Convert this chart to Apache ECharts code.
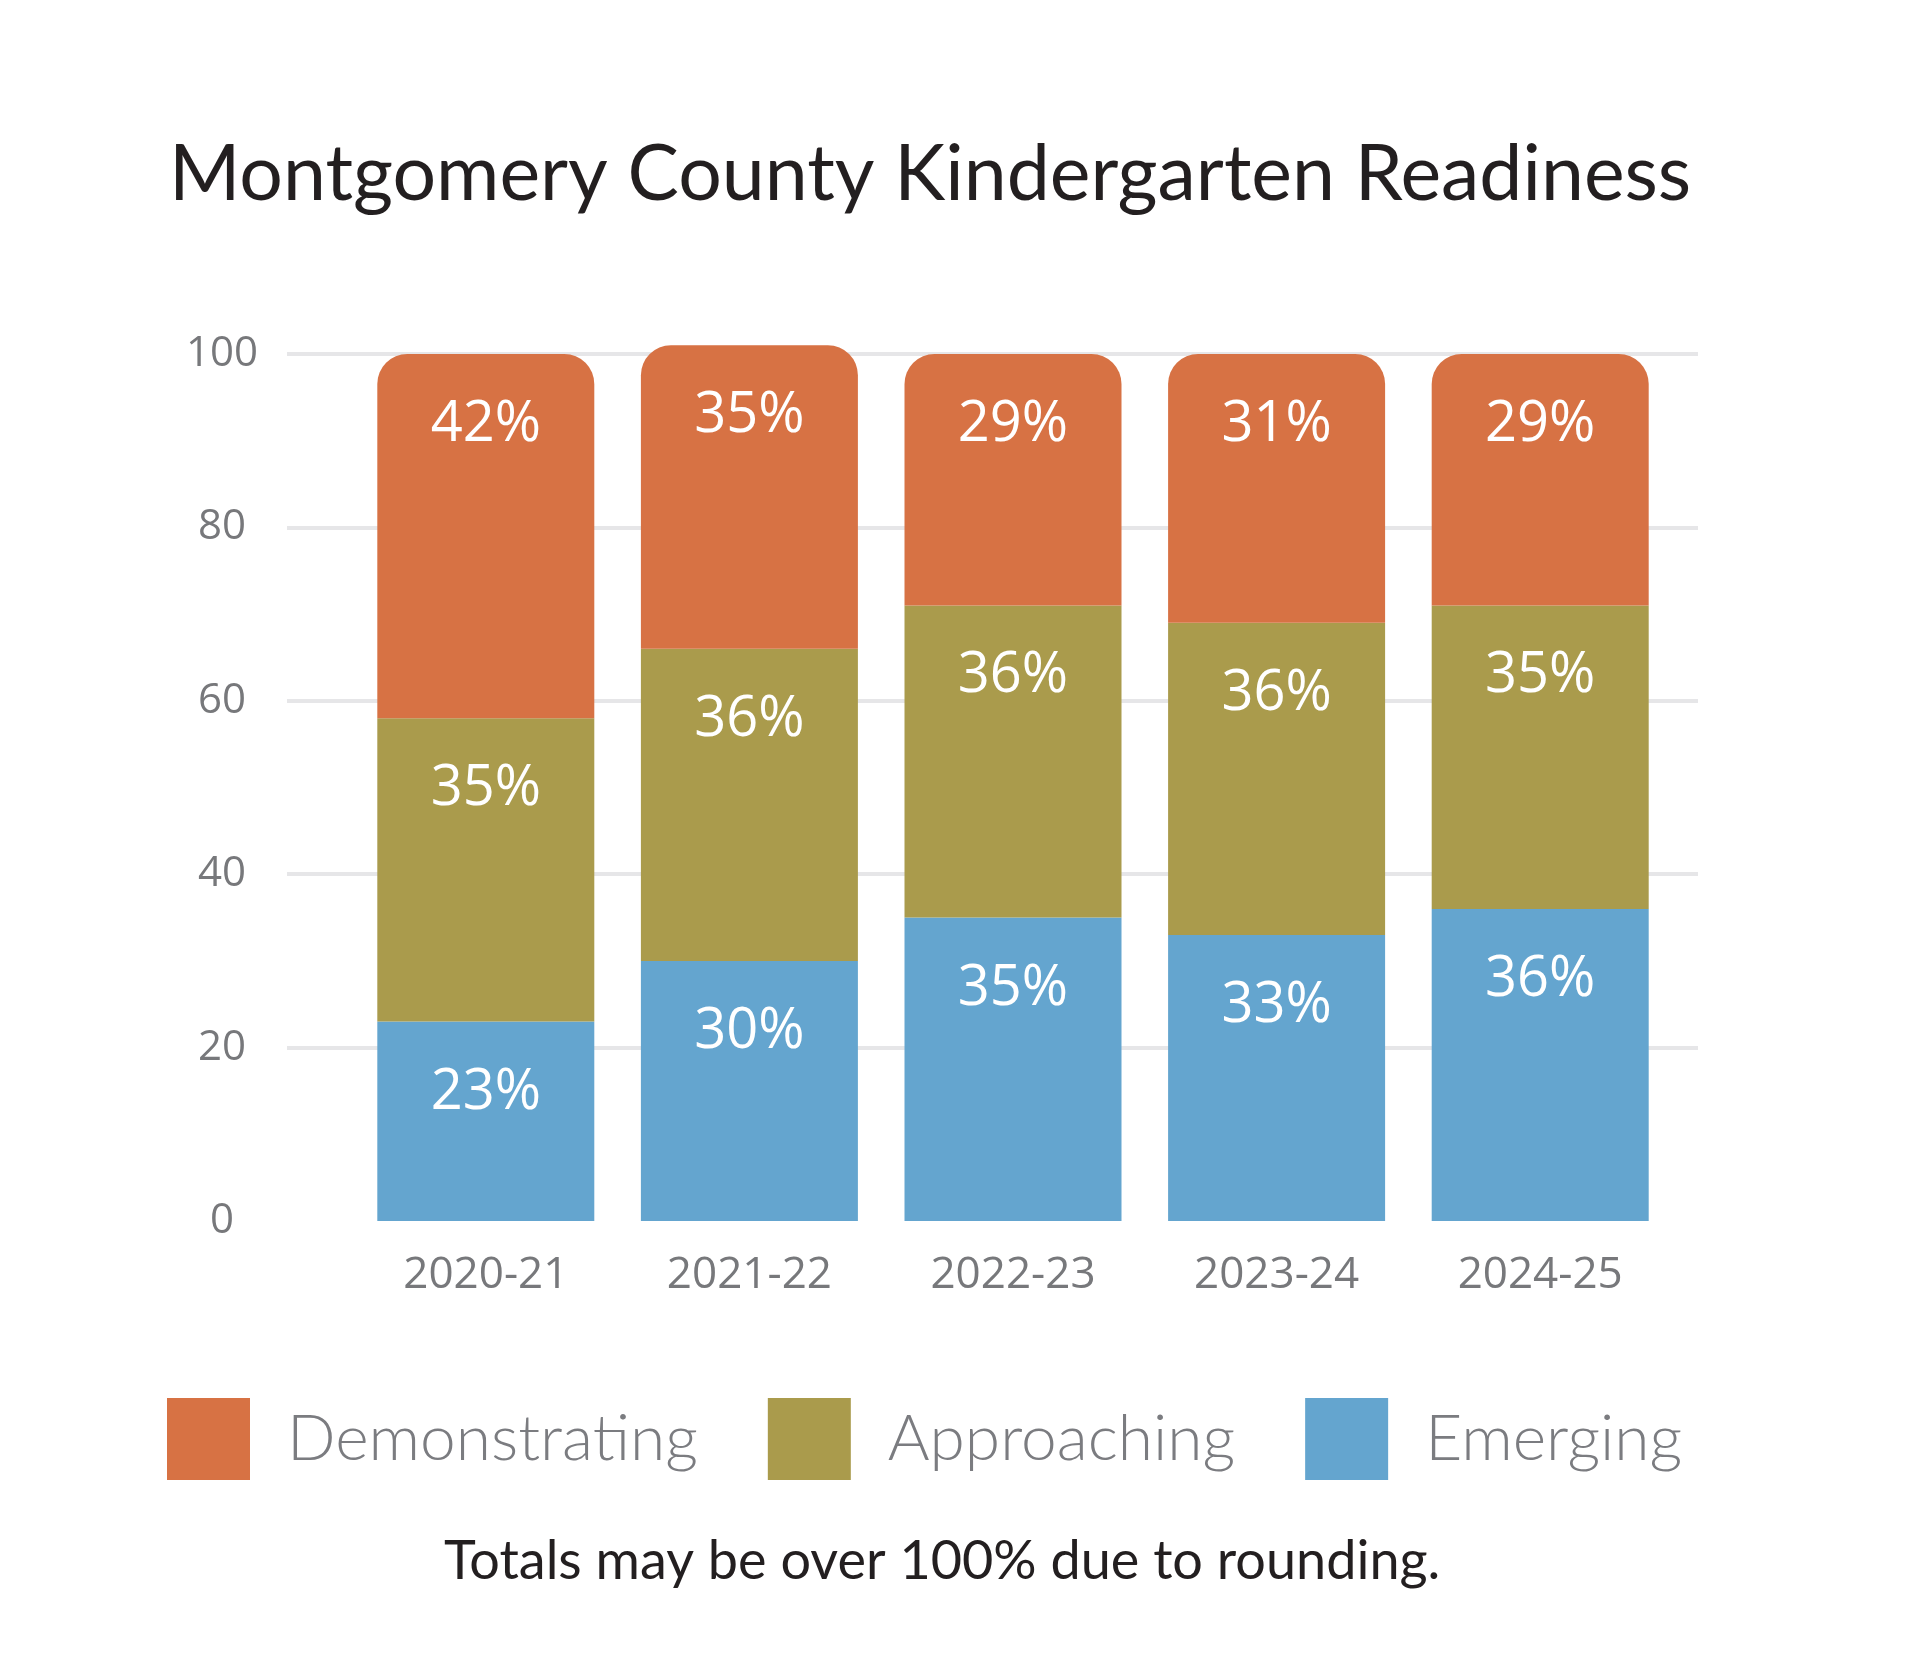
<!DOCTYPE html>
<html>
<head>
<meta charset="utf-8">
<script src="https://cdn.jsdelivr.net/npm/echarts@6/dist/echarts.min.js"></script>
<style>
  html, body { margin: 0; padding: 0; background: #fff; }
  #chart { width: 1920px; height: 1662px; }
</style>
</head>
<body>
<div id="chart"></div>
<script>
const years = ['2020-21', '2021-22', '2022-23', '2023-24', '2024-25'];
const emerging = [23, 30, 35, 33, 36];
const approaching = [35, 36, 36, 36, 35];
const demonstrating = [42, 35, 29, 31, 29];
const yTicks = [0, 20, 40, 60, 80, 100];

const colors = {
  demonstrating: '#d77244',
  approaching: '#aa9b4c',
  emerging: '#64a5cf'
};

let mychart = echarts.init(document.getElementById('chart'));

const valueLabel = {
  show: true,
  position: 'insideTop',
  distance: 43,
  color: '#ffffff',
  fontFamily: 'Open Sans',
  fontSize: 56,
  formatter: '{c}%'
};

let option = {
  backgroundColor: '#ffffff',
  animation: false,
  title: [
    {
      text: 'Montgomery County Kindergarten Readiness',
      left: 169,
      top: 137,
      padding: 0,
      textStyle: { fontFamily: 'Lato', fontWeight: 400, fontSize: 77, color: '#231f20' }
    },
    {
      text: 'Totals may be over 100% due to rounding.',
      left: 444,
      top: 1535,
      padding: 0,
      textStyle: { fontFamily: 'Lato', fontWeight: 400, fontSize: 54, color: '#231f20' }
    }
  ],
  legend: {
    data: ['Demonstrating', 'Approaching', 'Emerging'],
    left: 167,
    top: 1398,
    padding: 0,
    icon: 'rect',
    itemWidth: 83,
    itemHeight: 82,
    itemGap: 70,
    selectedMode: false,
    textStyle: {
      fontFamily: 'Lato',
      fontWeight: 300,
      fontSize: 64,
      color: '#7b7c80',
      padding: [0, 0, 0, 32]
    }
  },
  grid: [
    // gridlines + y labels
    { left: 287, right: 222, top: 354, bottom: 441 },
    // bars
    { left: 354, right: 248, top: 354, bottom: 441 }
  ],
  xAxis: [
    { type: 'category', gridIndex: 0, data: years, show: false },
    {
      type: 'category',
      gridIndex: 1,
      data: years,
      axisLine: { show: false },
      axisTick: { show: false },
      axisLabel: {
        margin: 32,
        fontFamily: 'Open Sans',
        fontSize: 44,
        color: '#77787b'
      }
    }
  ],
  yAxis: [
    {
      type: 'value',
      gridIndex: 0,
      min: yTicks[0],
      max: yTicks[yTicks.length - 1],
      interval: 20,
      axisLine: { show: false },
      axisTick: { show: false },
      axisLabel: {
        margin: 65,
        align: 'center',
        fontFamily: 'Open Sans',
        fontSize: 42,
        color: '#77787b'
      },
      splitLine: { showMinLine: false, lineStyle: { color: '#e6e6e8', width: 4 } }
    },
    {
      type: 'value',
      gridIndex: 1,
      min: 0,
      max: 100,
      show: false,
      splitLine: { show: false }
    }
  ],
  series: [
    {
      name: 'Emerging',
      type: 'bar',
      stack: 'total',
      xAxisIndex: 1,
      yAxisIndex: 1,
      barWidth: 217,
      clip: false,
      itemStyle: { color: colors.emerging },
      label: valueLabel,
      data: emerging
    },
    {
      name: 'Approaching',
      type: 'bar',
      stack: 'total',
      xAxisIndex: 1,
      yAxisIndex: 1,
      barWidth: 217,
      clip: false,
      itemStyle: { color: colors.approaching },
      label: valueLabel,
      data: approaching
    },
    {
      name: 'Demonstrating',
      type: 'bar',
      stack: 'total',
      xAxisIndex: 1,
      yAxisIndex: 1,
      barWidth: 217,
      clip: false,
      itemStyle: { color: colors.demonstrating, borderRadius: [30, 30, 0, 0] },
      label: valueLabel,
      data: demonstrating
    }
  ]
};

mychart.setOption(option);
</script>
</body>
</html>
